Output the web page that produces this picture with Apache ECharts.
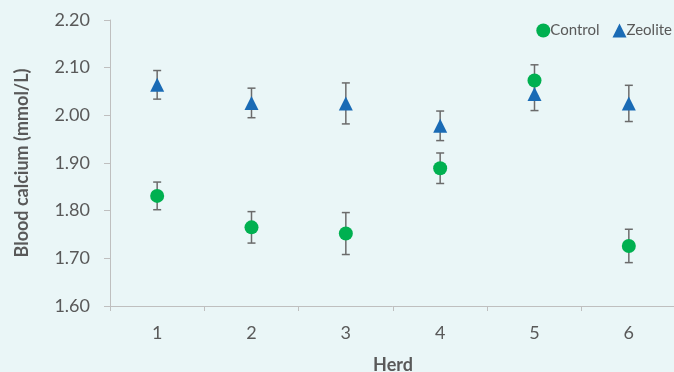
<!DOCTYPE html>
<html>
<head>
<meta charset="utf-8">
<script src="https://cdn.jsdelivr.net/npm/echarts@6/dist/echarts.min.js"></script>
<style>
  html, body { margin: 0; padding: 0; background: #EAF6F7; }
  #chart { width: 674px; height: 372px; }
</style>
</head>
<body>
<div id="chart"></div>
<script>
// Herds on the x axis
const herds = ['1', '2', '3', '4', '5', '6'];

// Mean blood calcium (mmol/L) and error (±)
const controlMean = [1.831, 1.765, 1.752, 1.889, 2.073, 1.726];
const controlErr  = [0.029, 0.033, 0.044, 0.032, 0.033, 0.035];
const zeoliteMean = [2.064, 2.026, 2.025, 1.978, 2.045, 2.025];
const zeoliteErr  = [0.030, 0.031, 0.043, 0.031, 0.035, 0.038];

const yTicks = { min: 1.6, max: 2.2, step: 0.1 };

const textColor = '#595959';
const axisColor = '#BFBFBF';
const font = 'Lato, "Open Sans", sans-serif';

function errorData(means, errs) {
  return means.map((m, i) => [i, m - errs[i], m + errs[i]]);
}

function renderError(params, api) {
  const x = api.value(0);
  const lo = api.coord([x, api.value(1)]);
  const hi = api.coord([x, api.value(2)]);
  const cap = 4;
  const style = { stroke: '#6B6B6B', lineWidth: 1.5 };
  return {
    type: 'group',
    children: [
      { type: 'line', shape: { x1: hi[0], y1: hi[1], x2: lo[0], y2: lo[1] }, style },
      { type: 'line', shape: { x1: hi[0] - cap, y1: hi[1], x2: hi[0] + cap, y2: hi[1] }, style },
      { type: 'line', shape: { x1: lo[0] - cap, y1: lo[1], x2: lo[0] + cap, y2: lo[1] }, style }
    ]
  };
}

const chart = echarts.init(document.getElementById('chart'));
chart.setOption({
  backgroundColor: '#EAF6F7',
  animation: false,
  grid: { left: 110, right: -2, top: 20, bottom: 66, outerBoundsMode: 'none', containLabel: false },
  legend: {
    right: -3,
    top: 18,
    itemWidth: 14,
    itemHeight: 14,
    itemGap: 13,
    textStyle: { color: textColor, fontSize: 15, fontFamily: font, padding: [0, 0, 0, -5] },
    data: [
      { name: 'Control', icon: 'circle' },
      { name: 'Zeolite', icon: 'triangle' }
    ]
  },
  xAxis: {
    type: 'category',
    data: herds,
    boundaryGap: true,
    name: 'Herd',
    nameLocation: 'middle',
    nameGap: 50,
    nameTextStyle: { color: textColor, fontSize: 18, fontWeight: 'bold', fontFamily: font },
    axisLine: { lineStyle: { color: axisColor, width: 1 } },
    axisTick: { show: true, length: 5, lineStyle: { color: axisColor } },
    axisLabel: { color: textColor, fontSize: 18, fontFamily: font, margin: 18 },
    splitLine: { show: false }
  },
  yAxis: {
    type: 'value',
    min: yTicks.min,
    max: yTicks.max,
    interval: yTicks.step,
    name: 'Blood calcium (mmol/L)',
    nameLocation: 'middle',
    nameGap: 79,
    nameTextStyle: { color: textColor, fontSize: 18, fontWeight: 'bold', fontFamily: font },
    axisLine: { show: true, lineStyle: { color: axisColor, width: 1 } },
    axisTick: { show: true, length: 6, lineStyle: { color: axisColor } },
    axisLabel: {
      color: textColor, fontSize: 18, fontFamily: font, margin: 20,
      formatter: v => v.toFixed(2)
    },
    splitLine: { show: false }
  },
  series: [
    {
      name: 'ControlErr', type: 'custom', renderItem: renderError,
      data: errorData(controlMean, controlErr), z: 1, silent: true
    },
    {
      name: 'ZeoliteErr', type: 'custom', renderItem: renderError,
      data: errorData(zeoliteMean, zeoliteErr), z: 1, silent: true
    },
    {
      name: 'Zeolite', type: 'scatter', symbol: 'triangle', symbolSize: 14,
      itemStyle: { color: '#1A6BB5', opacity: 1 }, data: zeoliteMean, z: 3
    },
    {
      name: 'Control', type: 'scatter', symbol: 'circle', symbolSize: 14,
      itemStyle: { color: '#00B050', opacity: 1 }, data: controlMean, z: 4
    }
  ]
});
</script>
</body>
</html>
